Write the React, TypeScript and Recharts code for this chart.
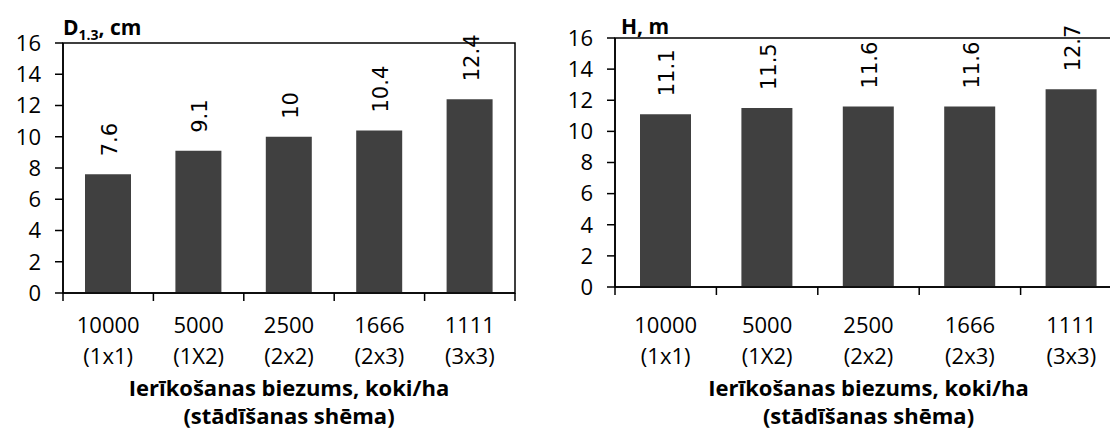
import React from 'react'
import { BarChart, Bar, XAxis, YAxis, LabelList, Label, ReferenceArea } from 'recharts'

// planting density (trees/ha) and planting scheme
const densities = ['10000', '5000', '2500', '1666', '1111']
const schemes = ['(1x1)', '(1X2)', '(2x2)', '(2x3)', '(3x3)']
const diameterValues = [7.6, 9.1, 10, 10.4, 12.4]
const heightValues = [11.1, 11.5, 11.6, 11.6, 12.7]
const yTicks = [0, 2, 4, 6, 8, 10, 12, 14, 16]

const TICK_FONT = '"Open Sans", sans-serif'
const BAR_COLOR = '#404040'

interface PanelProps {
  values: number[]
  left: number
  svgWidth: number
  margin: { top: number; right: number; bottom: number; left: number }
  yAxisWidth: number
  plotWidth: number
  plotHeight: number
  barSize: number
  title: React.ReactNode
  titleDx: number
  titleDy: number
}

function Panel({
  values,
  left,
  svgWidth,
  margin,
  yAxisWidth,
  plotWidth,
  plotHeight,
  barSize,
  title,
  titleDx,
  titleDy
}: PanelProps) {
  const data = densities.map((d, i) => ({ name: d, scheme: schemes[i], v: values[i] }))
  const band = plotWidth / densities.length
  const xAxisHeight = 436 - margin.top - plotHeight

  const XTick = (props: any) => {
    const { x, y, payload, index } = props
    const s = schemes[index]
    return (
      <g>
        <line x1={x - band / 2} x2={x - band / 2} y1={y} y2={y + 8} stroke="#000" strokeWidth={1.5} />
        {index === densities.length - 1 && (
          <line x1={x + band / 2} x2={x + band / 2} y1={y} y2={y + 8} stroke="#000" strokeWidth={1.5} />
        )}
        <text x={x} y={333} textAnchor="middle" fontFamily={TICK_FONT} fontSize={22} fill="#000">
          {payload.value}
        </text>
        <text x={x} y={364} textAnchor="middle" fontFamily={TICK_FONT} fontSize={22} fill="#000">
          {s}
        </text>
      </g>
    )
  }

  const renderValue = (props: any) => {
    const { x, y, width, value } = props
    const cx = Number(x) + Number(width) / 2 + 2
    const ty = Number(y) - 18
    return (
      <text
        x={cx}
        y={ty}
        transform={`rotate(-90, ${cx}, ${ty})`}
        textAnchor="start"
        dominantBaseline="central"
        fontFamily='"DejaVu Sans", sans-serif'
        fontSize={21}
        fill="#000"
      >
        {value}
      </text>
    )
  }

  return (
    <div style={{ position: 'absolute', left, top: 0 }}>
      <BarChart width={svgWidth} height={436} data={data} margin={margin}>
        <XAxis
          dataKey="name"
          height={xAxisHeight}
          axisLine={{ stroke: '#000', strokeWidth: 1.5 }}
          tickLine={false}
          tickSize={0}
          tickMargin={0}
          tick={<XTick />}
          interval={0}
        >
          <Label
            content={(p: any) => {
              const vb = p.viewBox
              const cx = vb.x + vb.width / 2
              return (
                <g fontFamily={TICK_FONT} fontWeight="bold" fontSize={22} fill="#000">
                  <text x={cx} y={396} textAnchor="middle">Ierīkošanas biezums, koki/ha</text>
                  <text x={cx} y={424} textAnchor="middle">(stādīšanas shēma)</text>
                </g>
              )
            }}
          />
        </XAxis>
        <YAxis
          domain={[0, 16]}
          ticks={yTicks}
          width={yAxisWidth}
          interval={0}
          axisLine={{ stroke: '#000', strokeWidth: 1.5 }}
          tickLine={{ stroke: '#000', strokeWidth: 1.5 }}
          tickSize={8}
          tickMargin={14}
          tick={{ fontFamily: TICK_FONT, fontSize: 22, fill: '#000' }}
        >
          <Label
            content={(p: any) => {
              const vb = p.viewBox
              return (
                <text
                  x={vb.x + vb.width + titleDx}
                  y={vb.y - titleDy}
                  fontFamily={TICK_FONT}
                  fontWeight="bold"
                  fontSize={21}
                  fill="#000"
                >
                  {title}
                </text>
              )
            }}
          />
        </YAxis>
        <ReferenceArea y1={0} y2={16} fill="none" stroke="#000" strokeWidth={1.5} ifOverflow="visible" />
        <Bar dataKey="v" fill={BAR_COLOR} barSize={barSize} isAnimationActive={false}>
          <LabelList dataKey="v" content={renderValue} />
        </Bar>
      </BarChart>
    </div>
  )
}

export default function App() {
  return (
    <div
      style={{
        position: 'fixed',
        left: 0,
        top: 0,
        width: 1110,
        height: 436,
        overflow: 'hidden',
        background: '#fff'
      }}
    >
      <Panel
        values={diameterValues}
        left={0}
        svgWidth={560}
        margin={{ top: 43, right: 45, bottom: 0, left: 0 }}
        yAxisWidth={63}
        plotWidth={452}
        plotHeight={250}
        barSize={46}
        title={
          <>
            D<tspan fontSize={14} dy={5}>1.3</tspan>
            <tspan dy={-5}>, cm</tspan>
          </>
        }
        titleDx={0}
        titleDy={8}
      />
      <Panel
        values={heightValues}
        left={560}
        svgWidth={600}
        margin={{ top: 38, right: 38, bottom: 0, left: 0 }}
        yAxisWidth={55}
        plotWidth={507}
        plotHeight={249}
        barSize={51}
        title="H, m"
        titleDx={6}
        titleDy={4}
      />
    </div>
  )
}
